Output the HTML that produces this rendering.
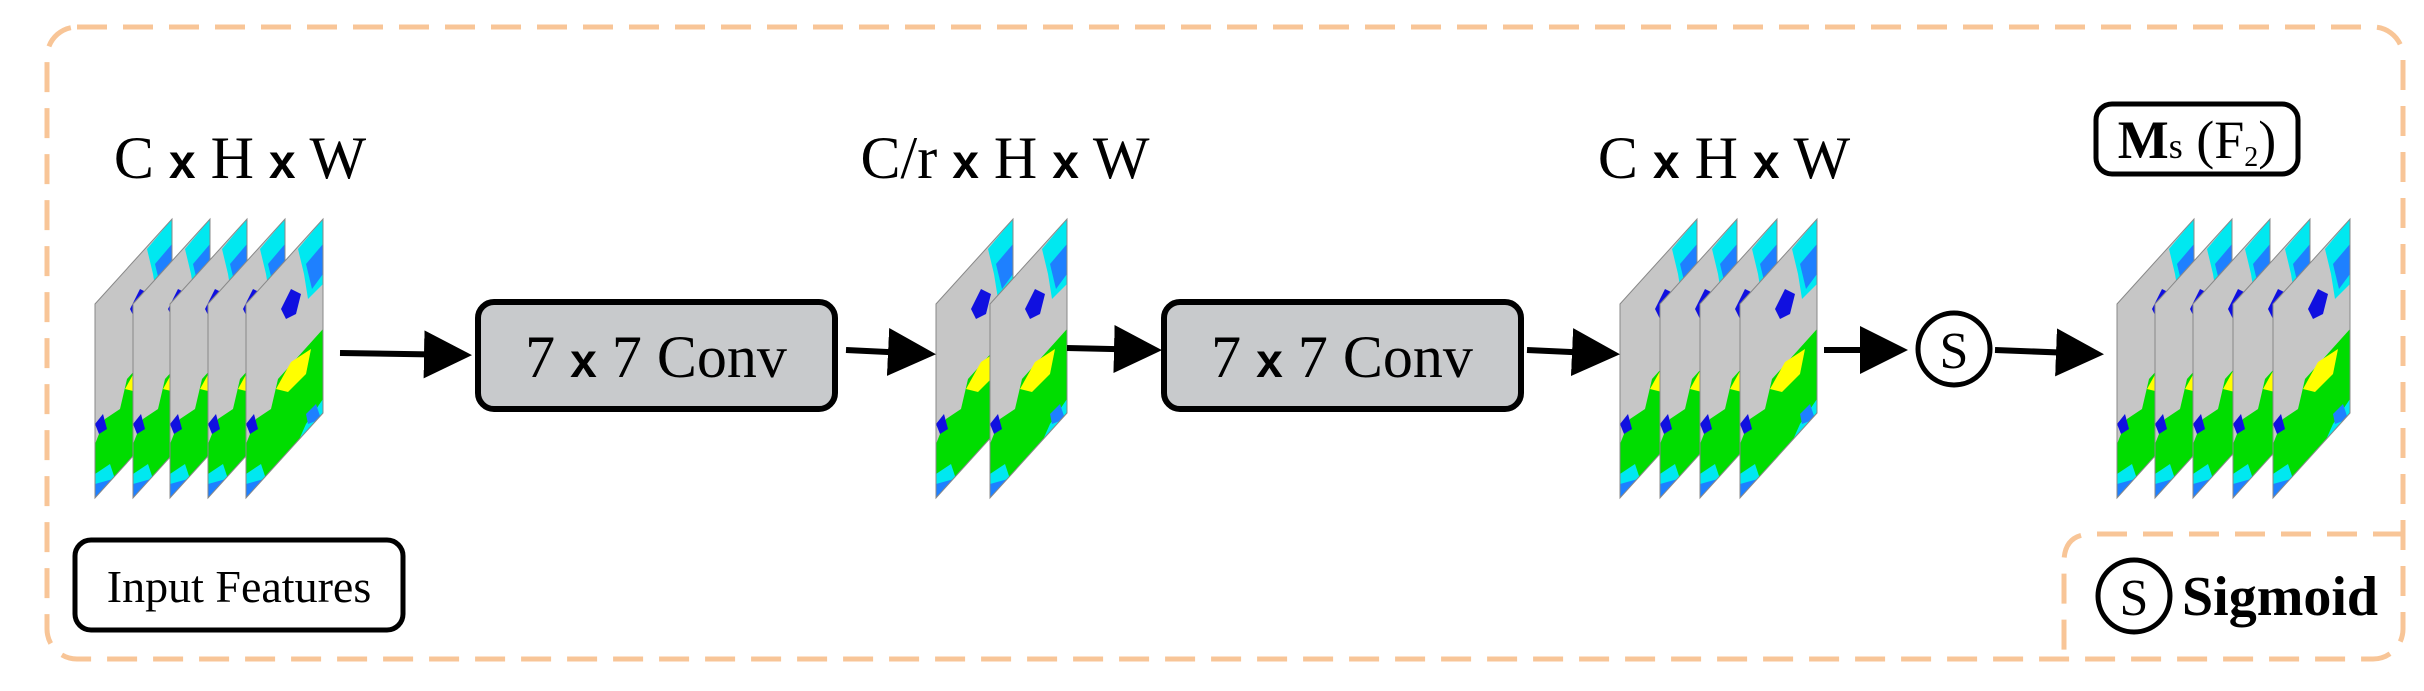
<!DOCTYPE html>
<html><head><meta charset="utf-8"><style>
html,body{margin:0;padding:0;background:#fff;}
svg{display:block;}
text{font-family:"Liberation Serif",serif;}
</style></head><body>
<svg width="2424" height="691" viewBox="0 0 2424 691" xmlns="http://www.w3.org/2000/svg">
<defs>
<clipPath id="cp"><polygon points="0,0 77,-85 77,109 0,194"/></clipPath>
<g id="sheet">
<g clip-path="url(#cp)">
<polygon points="0,0 77,-85 77,109 0,194" fill="#c6c6c6"/>
<polygon points="52,-55 77,-85 77,-20 62,-5 58,-30" fill="#00e8f0"/>
<polygon points="60,-40 77,-60 77,-30 66,-15" fill="#1e80ff"/>
<polygon points="35,5 45,-15 55,-10 50,10 40,15" fill="#1010e0"/>
<polygon points="0,140 10,115 25,105 32,75 50,55 77,25 77,109 0,194" fill="#00dd00"/>
<polygon points="30,85 45,58 65,45 60,70 42,88" fill="#ffff00"/>
<polygon points="0,194 0,170 15,160 20,175 40,165 60,120 77,95 77,109" fill="#00e8f0"/>
<polygon points="0,194 0,180 18,175 30,175 45,160 45,175" fill="#1e80ff"/>
<polygon points="0,120 8,110 12,125 4,130" fill="#1010e0"/>
<polygon points="60,110 70,100 75,115 62,120" fill="#1e80ff"/>
</g>
<polygon points="0,0 77,-85 77,109 0,194" fill="none" stroke="#888" stroke-width="1"/>
</g>
<marker id="ah" markerWidth="8" markerHeight="8" refX="7" refY="4" orient="auto" markerUnits="strokeWidth">
<path d="M0,0 L8,4 L0,8 Z" fill="#000"/></marker>
</defs>

<rect x="47" y="27" width="2356" height="632" rx="30" fill="none" stroke="#f8c597" stroke-width="5" stroke-dasharray="30,16"/>
<path d="M2403,534 L2092,534 Q2064,534 2064,562 L2064,659" fill="none" stroke="#f8c597" stroke-width="5" stroke-dasharray="30,16"/>

<text x="240" y="178" font-size="60" text-anchor="middle">C <tspan font-family="Liberation Sans,sans-serif" font-weight="bold" font-size="48">x</tspan> H <tspan font-family="Liberation Sans,sans-serif" font-weight="bold" font-size="48">x</tspan> W</text>
<text x="1005" y="178" font-size="60" text-anchor="middle">C/r <tspan font-family="Liberation Sans,sans-serif" font-weight="bold" font-size="48">x</tspan> H <tspan font-family="Liberation Sans,sans-serif" font-weight="bold" font-size="48">x</tspan> W</text>
<text x="1724" y="178" font-size="60" text-anchor="middle">C <tspan font-family="Liberation Sans,sans-serif" font-weight="bold" font-size="48">x</tspan> H <tspan font-family="Liberation Sans,sans-serif" font-weight="bold" font-size="48">x</tspan> W</text>

<use href="#sheet" x="95" y="304"/><use href="#sheet" x="133" y="304"/><use href="#sheet" x="170" y="304"/><use href="#sheet" x="208" y="304"/><use href="#sheet" x="246" y="304"/>
<use href="#sheet" x="936" y="304"/><use href="#sheet" x="990" y="304"/>
<use href="#sheet" x="1620" y="304"/><use href="#sheet" x="1660" y="304"/><use href="#sheet" x="1700" y="304"/><use href="#sheet" x="1740" y="304"/>
<use href="#sheet" x="2117" y="304"/><use href="#sheet" x="2155" y="304"/><use href="#sheet" x="2193" y="304"/><use href="#sheet" x="2233" y="304"/><use href="#sheet" x="2273" y="304"/>

<rect x="478" y="302" width="357" height="107" rx="16" fill="#c8cacc" stroke="#000" stroke-width="6"/>
<text x="656" y="377" font-size="60" text-anchor="middle">7 <tspan font-family="Liberation Sans,sans-serif" font-weight="bold" font-size="48">x</tspan> 7 Conv</text>
<rect x="1164" y="302" width="357" height="107" rx="16" fill="#c8cacc" stroke="#000" stroke-width="6"/>
<text x="1342" y="377" font-size="60" text-anchor="middle">7 <tspan font-family="Liberation Sans,sans-serif" font-weight="bold" font-size="48">x</tspan> 7 Conv</text>

<g stroke="#000" stroke-width="6" fill="none" marker-end="url(#ah)">
<line x1="340" y1="353" x2="466" y2="355"/>
<line x1="846" y1="350" x2="930" y2="354"/>
<line x1="1067" y1="348" x2="1156" y2="350"/>
<line x1="1527" y1="350" x2="1614" y2="354"/>
<line x1="1824" y1="350" x2="1902" y2="350"/>
<line x1="1995" y1="350" x2="2098" y2="354"/>
</g>

<circle cx="1954" cy="349" r="36" fill="#fff" stroke="#000" stroke-width="5"/>
<text x="1954" y="368" font-size="52" text-anchor="middle">S</text>

<rect x="2096" y="104" width="202" height="70" rx="16" fill="#fff" stroke="#000" stroke-width="5"/>
<text x="2197" y="158" font-size="54" text-anchor="middle"><tspan font-weight="bold">M</tspan><tspan font-size="36">s</tspan> (F<tspan font-size="28" dy="8">2</tspan><tspan dy="-8">)</tspan></text>

<rect x="75" y="540" width="328" height="90" rx="16" fill="#fff" stroke="#000" stroke-width="5"/>
<text x="239" y="602" font-size="46" text-anchor="middle">Input Features</text>

<circle cx="2134" cy="596" r="36" fill="#fff" stroke="#000" stroke-width="5"/>
<text x="2134" y="615" font-size="52" text-anchor="middle">S</text>
<text x="2182" y="615" font-size="56" font-weight="bold">Sigmoid</text>
</svg>
</body></html>
